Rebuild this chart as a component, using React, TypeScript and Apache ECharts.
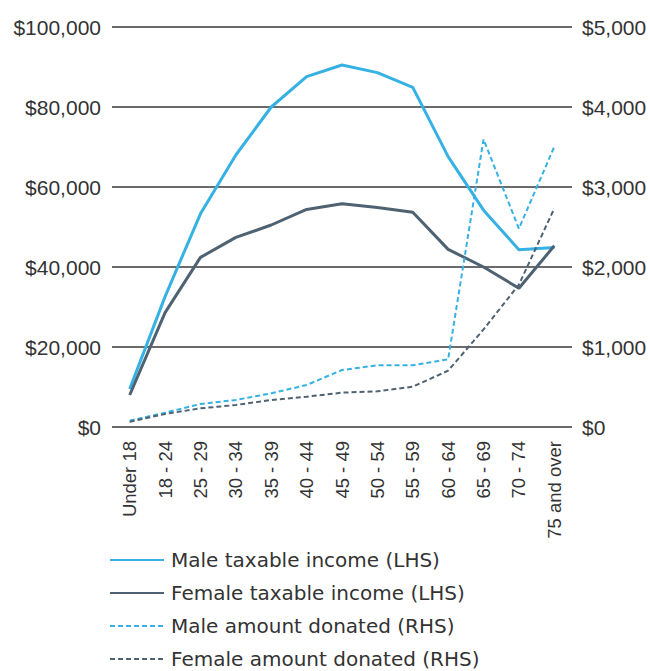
import React, { useEffect, useRef } from "react";
import * as echarts from "echarts";

const categories = [
  "Under 18", "18 - 24", "25 - 29", "30 - 34", "35 - 39", "40 - 44", "45 - 49",
  "50 - 54", "55 - 59", "60 - 64", "65 - 69", "70 - 74", "75 and over",
];
const maleIncome = [9500, 32600, 53300, 68000, 80000, 87600, 90500, 88600, 84900, 67600, 54200, 44300, 44900];
const femaleIncome = [8000, 28600, 42400, 47400, 50500, 54400, 55800, 54900, 53700, 44400, 40000, 34700, 45300];
const maleDonated = [79, 179, 288, 338, 421, 525, 712, 771, 771, 846, 3596, 2480, 3504];
const femaleDonated = [66, 163, 233, 275, 338, 379, 429, 446, 504, 704, 1220, 1780, 2733];

const MALE = "#36b1e4";
const FEMALE = "#4e6272";
const FONT = "Liberation Sans";
const LFONT = "DejaVu Sans";

const fmt = (v: number) => "$" + v.toLocaleString("en-US");

export default function App() {
  const ref = useRef<HTMLDivElement>(null);
  useEffect(() => {
    if (!ref.current) return;
    const chart = echarts.init(ref.current, undefined, { renderer: "svg" });
    chart.setOption({
      animation: false,
      textStyle: { fontFamily: FONT },
      grid: { left: 112, right: 78, top: 27, bottom: 244, containLabel: false },
      legend: {
        orient: "vertical",
        left: 109,
        top: 548,
        padding: 0,
        itemWidth: 54,
        itemHeight: 14,
        itemGap: 9,
        itemStyle: { opacity: 0 },
        textStyle: { fontSize: 20, color: "#333", fontFamily: LFONT, lineHeight: 24, padding: [0, 0, 0, 2] },
        data: [
          "Male taxable income (LHS)",
          "Female taxable income (LHS)",
          "Male amount donated (RHS)",
          "Female amount donated (RHS)",
        ],
      },
      xAxis: {
        type: "category",
        data: categories,
        boundaryGap: true,
        axisLine: { show: false },
        axisTick: { show: false },
        axisLabel: {
          rotate: 90,
          fontSize: 18.5,
          color: "#333",
          interval: 0,
          margin: 14,
          fontFamily: FONT,
        },
      },
      yAxis: [
        {
          type: "value",
          min: 0,
          max: 100000,
          interval: 20000,
          axisLine: { show: false },
          axisTick: { show: false },
          splitLine: { lineStyle: { color: "#6b6b6b", width: 2 } },
          axisLabel: { formatter: fmt, fontSize: 21, color: "#333", margin: 11, fontFamily: FONT },
        },
        {
          type: "value",
          min: 0,
          max: 5000,
          interval: 1000,
          axisLine: { show: false },
          axisTick: { show: false },
          splitLine: { show: false },
          axisLabel: { formatter: fmt, fontSize: 21, color: "#333", margin: 10, fontFamily: FONT },
        },
      ],
      series: [
        {
          name: "Male taxable income (LHS)",
          type: "line",
          data: maleIncome,
          yAxisIndex: 0,
          symbol: "none",
          lineStyle: { color: MALE, width: 3 },
          itemStyle: { color: MALE },
        },
        {
          name: "Female taxable income (LHS)",
          type: "line",
          data: femaleIncome,
          yAxisIndex: 0,
          symbol: "none",
          lineStyle: { color: FEMALE, width: 3 },
          itemStyle: { color: FEMALE },
        },
        {
          name: "Male amount donated (RHS)",
          type: "line",
          data: maleDonated,
          yAxisIndex: 1,
          symbol: "none",
          lineStyle: { color: MALE, width: 2, type: [5, 3] },
          itemStyle: { color: MALE },
        },
        {
          name: "Female amount donated (RHS)",
          type: "line",
          data: femaleDonated,
          yAxisIndex: 1,
          symbol: "none",
          lineStyle: { color: FEMALE, width: 2, type: [5, 3] },
          itemStyle: { color: FEMALE },
        },
      ],
    });
    return () => chart.dispose();
  }, []);
  return <div ref={ref} style={{ width: 650, height: 671, position: "absolute", left: 0, top: 0 }} />;
}
